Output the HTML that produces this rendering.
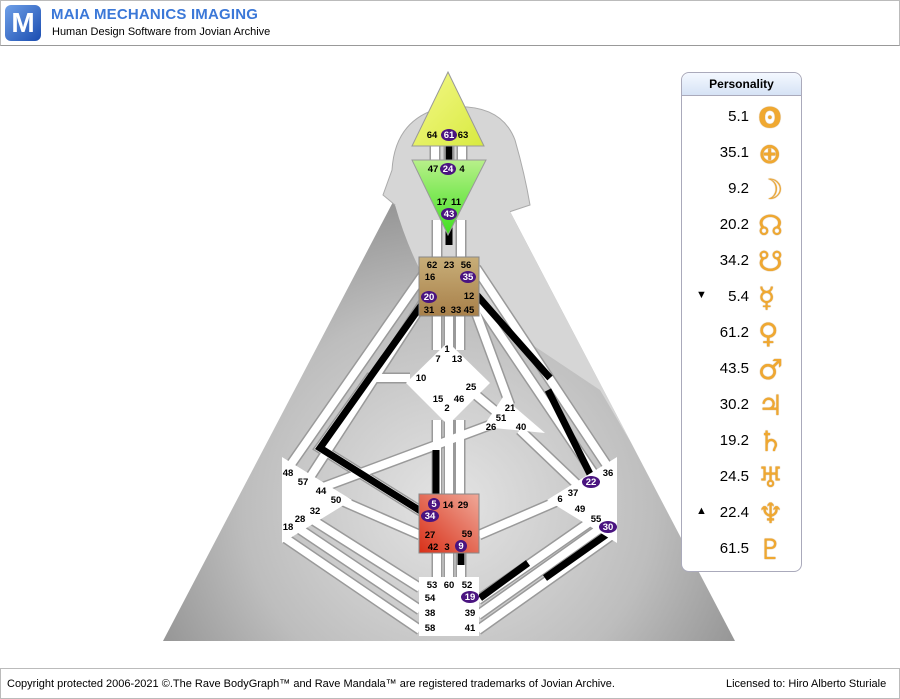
<!DOCTYPE html>
<html><head><meta charset="utf-8"><style>
body{margin:0;width:900px;height:699px;background:#fff;font-family:"Liberation Sans",sans-serif;overflow:hidden;position:relative}
.hdr{position:absolute;left:0;top:0;width:898px;height:44px;border:1px solid #bbb;border-bottom:1px solid #999;background:#fff}
.logo{position:absolute;left:4px;top:4px;width:36px;height:36px;border-radius:6px;background:linear-gradient(135deg,#6fa0e8,#1a4cb0);color:#fff;font:bold 28px "Liberation Sans";text-align:center;line-height:36px}
.t1{position:absolute;left:50px;top:5px;font:bold 15px "Liberation Sans";color:#3b78d8;letter-spacing:.2px}
.t2{position:absolute;left:51px;top:25px;font:11px "Liberation Sans";color:#000}
.foot{position:absolute;left:0;top:668px;width:898px;height:29px;border:1px solid #bbb;font:11px "Liberation Sans";color:#000}
.panel{position:absolute;left:681px;top:72px;width:119px;height:498px;border:1px solid #aab;border-radius:8px;background:#fff}
.ph{height:22px;border-bottom:1px solid #aab;border-radius:8px 8px 0 0;background:linear-gradient(#f4f8ff,#d6e3f5);text-align:center;font:bold 12px "Liberation Sans";line-height:22px}
.row{position:absolute;left:0;width:119px;height:30px;font:15px "Liberation Sans"}
.row .v{position:absolute;right:52px;top:5px}
.row .g{position:absolute;left:76px;top:-2px;font:bold 28px "DejaVu Sans";color:#f0a830;text-shadow:0 0 1px #b07010}
.row .a{position:absolute;left:14px;top:6px;font-size:11px}
</style></head><body>
<div class="hdr"><div class="logo">M</div><div class="t1">MAIA MECHANICS IMAGING</div><div class="t2">Human Design Software from Jovian Archive</div></div>
<svg width="900" height="699" style="position:absolute;left:0;top:0">
<defs>
<radialGradient id="bg" cx="0.5" cy="0.75" r="0.6"><stop offset="0" stop-color="#e4e4e4"/><stop offset="0.6" stop-color="#bdbdbd"/><stop offset="1" stop-color="#8e8e8e"/></radialGradient>
<linearGradient id="hd" x1="0" y1="0" x2="1" y2="1"><stop offset="0" stop-color="#f4f88a"/><stop offset="1" stop-color="#d8ea40"/></linearGradient>
<linearGradient id="aj" x1="0" y1="0" x2="0" y2="1"><stop offset="0" stop-color="#b8f08a"/><stop offset="1" stop-color="#40e020"/></linearGradient>
<linearGradient id="th" x1="0" y1="0" x2="0" y2="1"><stop offset="0" stop-color="#c8ae78"/><stop offset="1" stop-color="#a8804a"/></linearGradient>
<linearGradient id="sc" x1="1" y1="0" x2="0" y2="1"><stop offset="0" stop-color="#f0a898"/><stop offset="1" stop-color="#d83018"/></linearGradient>
<clipPath id="tri"><polygon points="449,95 735,641 163,641"/></clipPath>
</defs>
<polygon points="449,95 735,641 163,641" fill="url(#bg)"/>
<path d="M395,205 L383,195 L392,170 Q395,120 440,108 Q500,100 515,140 Q525,175 530,205 L500,215 L410,215 Z" fill="#d6d6d6" stroke="#aaa"/>
<path d="M395,205 Q405,240 420,270 L600,390 L700,560 L740,560 L600,260 L530,205 Z" fill="#d6d6d6" clip-path="url(#tri)"/>
<g stroke-linecap="butt" fill="none">
<g stroke="#9a9a9a" stroke-width="11">
<path d="M435,146V160M449,146V160M462,146V160M437,220V257M461,220V257M437,316V350M449,316V350M460,316V350
M425,272L287,470M425,300L305,485M476,268L610,470M470,290L598,480M475,310L510,405
M437,420V494M449,420V494M460,420V494M410,378H370L320,448L427,515M470,390L500,415M490,425L310,492M520,430L585,492
M420,535L340,500M479,535L560,500M437,553V577M449,553V577M461,553V577
M420,588L300,512M420,610L292,524M420,630L285,538M478,600L600,515M478,615L605,525M478,630L612,535"/>
</g>
<g stroke="#fff" stroke-width="8">
<path d="M435,146V160M449,146V160M462,146V160M437,220V257M461,220V257M437,316V350M449,316V350M460,316V350
M425,272L287,470M425,300L305,485M476,268L610,470M470,290L598,480M475,310L510,405
M437,420V494M449,420V494M460,420V494M410,378H370L320,448L427,515M470,390L500,415M490,425L310,492M520,430L585,492
M420,535L340,500M479,535L560,500M437,553V577M449,553V577M461,553V577
M420,588L300,512M420,610L292,524M420,630L285,538M478,600L600,515M478,615L605,525M478,630L612,535"/>
</g>
<g stroke="#000" stroke-width="7">
<path d="M449,146V160M449,220V245M425,300L320,448L427,515M436,450V494M475,293L550,378M548,390L592,478M461,553V565M480,598L528,563M545,578L610,532"/>
</g>
</g>
<polygon points="448,72 484,146 412,146" fill="url(#hd)" stroke="#999"/>
<polygon points="412,160 486,160 448,235" fill="url(#aj)" stroke="#999"/>
<rect x="419" y="257" width="60" height="59" fill="url(#th)" stroke="#888"/>
<polygon points="448,342 490,383 448,425 406,383" fill="#fff"/>
<polygon points="503,397 545,433 483,427" fill="#fff"/>
<rect x="419" y="494" width="60" height="59" fill="url(#sc)" stroke="#888"/>
<rect x="419" y="577" width="60" height="59" fill="#fff"/>
<polygon points="282,457 352,500 282,543" fill="#fff"/>
<polygon points="617,457 547,500 617,543" fill="#fff"/>
<g fill="#4a1480">
<ellipse cx="449" cy="135" rx="8" ry="6"/><ellipse cx="448" cy="169" rx="8" ry="6"/><ellipse cx="449" cy="214" rx="8" ry="6"/>
<ellipse cx="468" cy="277" rx="8" ry="6"/><ellipse cx="429" cy="297" rx="8" ry="6"/>
<ellipse cx="434" cy="504" rx="6" ry="6"/><ellipse cx="430" cy="516" rx="9" ry="6"/><ellipse cx="461" cy="546" rx="6" ry="6"/>
<ellipse cx="470" cy="597" rx="9" ry="6"/><ellipse cx="591" cy="482" rx="9" ry="6"/><ellipse cx="608" cy="527" rx="9" ry="6"/>
</g>
<g font-family="Liberation Sans" font-weight="bold" font-size="9.5" fill="#000" text-anchor="middle">
<text x="432" y="138">64</text><text x="463" y="138">63</text><text x="433" y="172">47</text><text x="462" y="172">4</text>
<text x="442" y="205">17</text><text x="456" y="205">11</text>
<text x="432" y="268">62</text><text x="449" y="268">23</text><text x="466" y="268">56</text><text x="430" y="280">16</text><text x="469" y="299">12</text>
<text x="429" y="313">31</text><text x="443" y="313">8</text><text x="456" y="313">33</text><text x="469" y="313">45</text>
<text x="447" y="352">1</text><text x="438" y="362">7</text><text x="457" y="362">13</text><text x="421" y="381">10</text><text x="471" y="390">25</text>
<text x="438" y="402">15</text><text x="459" y="402">46</text><text x="447" y="411">2</text>
<text x="510" y="411">21</text><text x="501" y="421">51</text><text x="491" y="430">26</text><text x="521" y="430">40</text>
<text x="288" y="476">48</text><text x="303" y="485">57</text><text x="321" y="494">44</text><text x="336" y="503">50</text><text x="315" y="514">32</text><text x="300" y="522">28</text><text x="288" y="530">18</text>
<text x="608" y="476">36</text><text x="573" y="496">37</text><text x="560" y="502">6</text><text x="580" y="512">49</text><text x="596" y="522">55</text>
<text x="448" y="508">14</text><text x="463" y="508">29</text><text x="430" y="538">27</text><text x="467" y="537">59</text><text x="433" y="550">42</text><text x="447" y="550">3</text>
<text x="432" y="588">53</text><text x="449" y="588">60</text><text x="467" y="588">52</text><text x="430" y="601">54</text><text x="430" y="616">38</text><text x="470" y="616">39</text><text x="430" y="631">58</text><text x="470" y="631">41</text>
</g>
<g font-family="Liberation Sans" font-weight="bold" font-size="9.5" fill="#fff" text-anchor="middle">
<text x="449" y="138">61</text><text x="448" y="172">24</text><text x="449" y="217">43</text><text x="468" y="280">35</text><text x="429" y="300">20</text>
<text x="434" y="507">5</text><text x="430" y="519">34</text><text x="461" y="549">9</text><text x="470" y="600">19</text><text x="591" y="485">22</text><text x="608" y="530">30</text>
</g>
</svg>
<div class="panel"><div class="ph">Personality</div>
<div class="row" style="top:30px"><span class="v">5.1</span><span class="g">ʘ</span></div>
<div class="row" style="top:66px"><span class="v">35.1</span><span class="g">⊕</span></div>
<div class="row" style="top:102px"><span class="v">9.2</span><span class="g">☽</span></div>
<div class="row" style="top:138px"><span class="v">20.2</span><span class="g">☊</span></div>
<div class="row" style="top:174px"><span class="v">34.2</span><span class="g">☋</span></div>
<div class="row" style="top:210px"><span class="a">▼</span><span class="v">5.4</span><span class="g">☿</span></div>
<div class="row" style="top:246px"><span class="v">61.2</span><span class="g">♀</span></div>
<div class="row" style="top:282px"><span class="v">43.5</span><span class="g">♂</span></div>
<div class="row" style="top:318px"><span class="v">30.2</span><span class="g">♃</span></div>
<div class="row" style="top:354px"><span class="v">19.2</span><span class="g">♄</span></div>
<div class="row" style="top:390px"><span class="v">24.5</span><span class="g">♅</span></div>
<div class="row" style="top:426px"><span class="a">▲</span><span class="v">22.4</span><span class="g">♆</span></div>
<div class="row" style="top:462px"><span class="v">61.5</span><span class="g">♇</span></div>
</div>
<div class="foot"><span style="position:absolute;left:6px;top:9px">Copyright protected 2006-2021 ©.The Rave BodyGraph™ and Rave Mandala™ are registered trademarks of Jovian Archive.</span><span style="position:absolute;left:725px;top:9px">Licensed to: Hiro Alberto Sturiale</span></div>
</body></html>
